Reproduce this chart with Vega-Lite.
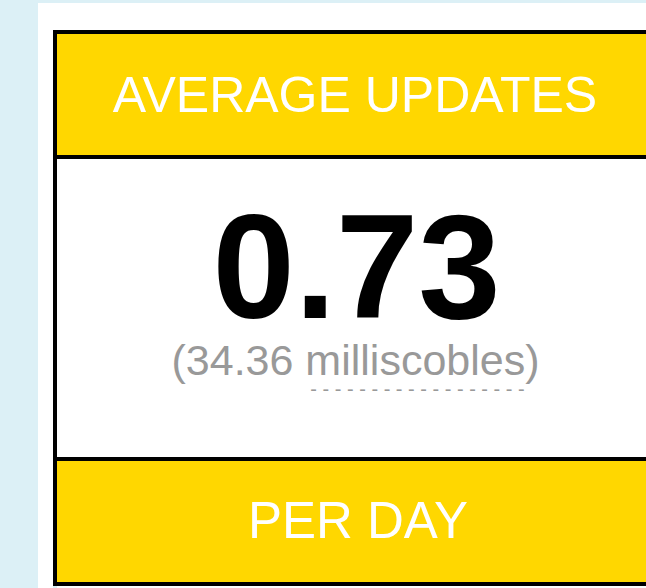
{
  "$schema": "https://vega.github.io/schema/vega-lite/v6.json",
  "background": "#dcf0f6",
  "padding": {"left": 38, "top": 3, "right": 0, "bottom": 0},
  "config": {"view": {"stroke": null}, "concat": {"spacing": 0}},
  "datasets": {
    "texts": [
      {"part": "header", "text": "AVERAGE UPDATES"},
      {"part": "value", "text": "0.73"},
      {"part": "sub", "text": "(34.36 milliscobles)"},
      {"part": "footer", "text": "PER DAY"}
    ],
    "none": []
  },
  "bounds": "flush",
  "spacing": 0,
  "vconcat": [
    {"data": {"name": "none"}, "mark": "text", "width": 608, "height": 27, "view": {"fill": "#ffffff", "stroke": null}},
    {
      "bounds": "flush",
      "spacing": 0,
      "hconcat": [
        {"data": {"name": "none"}, "mark": "text", "width": 15, "height": 558, "view": {"fill": "#ffffff", "stroke": null}},
        {"data": {"name": "none"}, "mark": "text", "width": 4, "height": 556, "view": {"fill": "#000000", "stroke": null}},
        {
          "bounds": "flush",
          "spacing": 0,
          "vconcat": [
            {"data": {"name": "none"}, "mark": "text", "width": 589, "height": 4, "view": {"fill": "#000000", "stroke": null}},
            {
              "data": {"name": "texts"},
              "transform": [{"filter": "datum.part === 'header'"}],
              "width": 589, "height": 121,
              "view": {"fill": "#ffd700", "stroke": null},
              "mark": {"type": "text", "font": "Liberation Sans", "fontSize": 50, "color": "#ffffff", "baseline": "alphabetic", "align": "center", "dx": 3.5, "dy": 17.5},
              "encoding": {"text": {"field": "text"}}
            },
            {"data": {"name": "none"}, "mark": "text", "width": 589, "height": 4, "view": {"fill": "#000000", "stroke": null}},
            {
              "data": {"name": "texts"},
              "width": 589, "height": 298,
              "view": {"fill": "#ffffff", "stroke": null},
              "layer": [
                {
                  "transform": [{"filter": "datum.part === 'value'"}],
                  "mark": {"type": "text", "font": "Liberation Sans", "fontWeight": "bold", "fontSize": 148, "color": "#000000", "baseline": "alphabetic", "align": "center", "dx": 5, "dy": 10},
                  "encoding": {"text": {"field": "text"}}
                },
                {
                  "transform": [{"filter": "datum.part === 'sub'"}],
                  "mark": {"type": "text", "font": "Liberation Sans", "fontSize": 43, "color": "#999999", "baseline": "alphabetic", "align": "center", "dx": 4, "dy": 67},
                  "encoding": {"text": {"field": "text"}}
                },
                {
                  "transform": [{"filter": "datum.part === 'sub'"}],
                  "mark": {"type": "text", "font": "Liberation Sans", "fontSize": 20, "color": "#999999", "baseline": "alphabetic", "align": "center", "dx": 66, "dy": 88, "text": "- - - - - - - - - - - - - - - - - -"},
                  "encoding": {}
                }
              ]
            },
            {"data": {"name": "none"}, "mark": "text", "width": 589, "height": 4, "view": {"fill": "#000000", "stroke": null}},
            {
              "data": {"name": "texts"},
              "transform": [{"filter": "datum.part === 'footer'"}],
              "width": 589, "height": 121,
              "view": {"fill": "#ffd700", "stroke": null},
              "mark": {"type": "text", "font": "Liberation Sans", "fontSize": 51, "color": "#ffffff", "baseline": "alphabetic", "align": "center", "dx": 6.5, "dy": 16.5},
              "encoding": {"text": {"field": "text"}}
            },
            {"data": {"name": "none"}, "mark": "text", "width": 589, "height": 4, "view": {"fill": "#000000", "stroke": null}},
            {"data": {"name": "none"}, "mark": "text", "width": 589, "height": 2, "view": {"fill": "#ffffff", "stroke": null}}
          ]
        }
      ]
    }
  ]
}
